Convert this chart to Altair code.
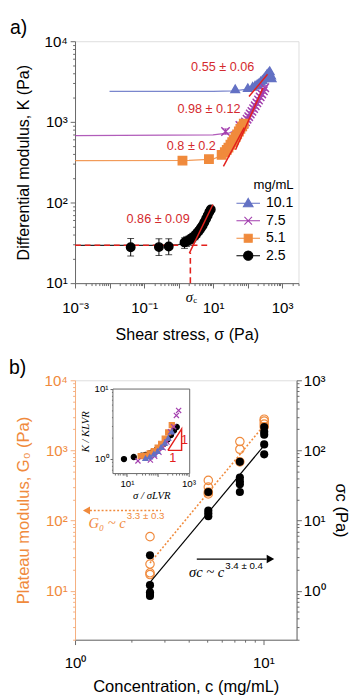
import altair as alt
import pandas as pd

SANS = "Liberation Sans"
SERIF = "Liberation Serif"
RED = "#e3201c"
RED_TXT = "#d42a2e"
ORANGE = "#f08a3c"
FRAME = "#666666"

# ================= panel a data =================
series_a = ["10.1", "7.5", "5.1", "2.5"]
colors_a = ["#6371c4", "#a33fae", "#f08a3c", "#000000"]
X_PATH = "M-1,-1L1,1M-1,1L1,-1"
shapes_a = ["triangle-up", X_PATH, "square", "circle"]
# legend symbols: marker with a short line through it
LINE = "M-2.8,0H2.8"
legend_shapes_a = [
    LINE + "M0,-1.15L1.15,0.85L-1.15,0.85Z",
    LINE + "M-0.9,-0.9L0.9,0.9M-0.9,0.9L0.9,-0.9",
    LINE + "M-0.95,-0.95H0.95V0.95H-0.95Z",
    LINE + "M-1.1,0A1.1,1.1,0,1,1,1.1,0A1.1,1.1,0,1,1,-1.1,0Z",
]

s_101 = [44, 102, 140, 165, 190, 215, 240, 270, 300, 330, 360, 400, 440, 480, 500]
k_101 = [2570, 2650, 2750, 2850, 2950, 3050, 3200, 3350, 3500, 3700, 3900, 4100, 4300, 3800, 3500]
s_75 = [23, 60, 70, 78, 87, 97, 108, 120, 134, 150, 167, 186, 208, 232, 258, 288, 316]
k_75 = [760, 900, 870, 930, 1000, 1080, 1160, 1250, 1350, 1460, 1580, 1720, 1870, 2040, 2220, 2430, 2650]
k_75_lo = [700, 830, 810, 865, 930, 1000, 1080, 1160, 1250, 1350, 1470, 1600, 1740, 1900, 2060, 2260, 2460]
k_75_hi = [820, 970, 930, 995, 1070, 1160, 1240, 1340, 1450, 1570, 1690, 1840, 2000, 2180, 2380, 2600, 2840]
s_51 = [1.3, 7.6, 17.8, 22, 25, 28, 32, 36, 40, 45, 50, 56, 62, 70, 78]
k_51 = [330, 345, 390, 420, 450, 480, 520, 560, 600, 650, 700, 760, 820, 880, 950]
s_25 = [0.041, 0.27, 0.52, 1.49, 1.7, 2.0, 2.3, 2.6, 3.0, 3.4, 3.9, 4.4, 5.0, 5.6, 6.3, 7.0, 7.8, 8.6]
k_25 = [27.9, 28, 28.5, 32, 33, 34, 35.5, 37, 39, 41.5, 44.5, 48, 52, 57, 63, 69, 76, 82]
k_25_lo = [21.7, 22.0, 22.5, 27.0, 28.5, 29.5, 31, 32.5, 34.5, 37, 40, 43, 47, 52, 58, 64, 71, 77]
k_25_hi = [35.8, 35.5, 35.5, 36.5, 37.5, 38.5, 40, 41.5, 43.5, 46, 49, 53, 57, 62, 68, 74, 81, 87]

# fitted curves
fs_101 = [0.01, 10, 40, 100, 200, 300, 400, 500]
fk_101 = [2380, 2380, 2420, 2550, 2850, 3200, 3600, 3950]
fs_75 = [0.001, 10, 30, 50, 70, 100, 150, 220, 320]
fk_75 = [676, 690, 730, 800, 880, 1100, 1450, 1950, 2700]
fs_51 = [0.001, 2, 10, 17, 25, 35, 50, 70, 90]
fk_51 = [330, 332, 345, 380, 440, 540, 680, 850, 960]
fs_25 = [0.001, 0.5, 1.0, 1.5, 2.0, 2.5, 3, 4, 5, 6.5, 8.5]
fk_25 = [29.5, 29.5, 30, 31.5, 33.5, 36, 39, 45, 52, 62, 78]

# power-law (red) lines
pl_s = {"10.1": [110, 380], "7.5": [45, 280], "5.1": [20, 80], "2.5": [2.06, 9.9]}
pl_k = {"10.1": [2060, 3890], "7.5": [450, 2640], "5.1": [280, 850], "2.5": [23.6, 94.6]}
pl_txt = ["0.55 \u00b1 0.06", "0.98 \u00b1 0.12", "0.8 \u00b1 0.2", "0.86 \u00b1 0.09"]
pl_txt_s = [19, 7.6, 2.35, 0.256]
pl_txt_k = [4730, 1435, 500, 62.4]

sigma_c = 2.2
plateau_25 = 29.5
dash_h_s = [0.001, 7]
dash_v_k = [10, 24]

# ================= panel b data =================
g0_c = [2.5, 2.5, 2.5, 2.5, 5.1, 5.1, 5.1, 5.1, 7.5, 7.5, 7.5, 10.1, 10.1, 10.1, 10.1]
g0_v = [59, 24, 18, 17, 374, 300, 255, 240, 1340, 1040, 687, 2790, 2620, 2380, 2170]
sc_c = [2.5, 2.5, 2.5, 2.5, 2.5, 5.1, 5.1, 5.1, 5.1, 7.5, 7.5, 7.5, 7.5, 7.5, 10.1, 10.1, 10.1, 10.1, 10.1]
sc_v = [3.2, 1.2, 0.95, 0.9, 0.84, 25.5, 13.9, 12.7, 11.5, 68.7, 41, 36.4, 33, 25.5, 216, 184, 168, 122, 88]
g0_fit_c = [2.5, 10.1]
g0_fit_v = [24.9, 2300]
sc_fit_c = [2.5, 10.1]
sc_fit_v = [1.31, 118]

# inset data
in_black_x = [8.0, 16.7, 30, 40, 54, 70, 90, 120, 160, 210, 270, 340, 417]
in_black_y = [1.0, 1.07, 1.12, 1.15, 1.2, 1.27, 1.35, 1.48, 1.65, 1.9, 2.2, 2.55, 2.87]
in_purple_x = [22.8, 57.8, 80, 110, 150, 200, 263, 330, 406, 480]
in_purple_y = [0.94, 0.97, 1.1, 1.25, 1.45, 1.75, 2.45, 2.9, 4.2, 4.95]
in_orange_x = [28, 40, 55, 75, 100, 130, 170, 220, 288]
in_orange_y = [1.1, 1.12, 1.2, 1.3, 1.45, 1.65, 1.95, 2.4, 3.06]
in_blue_x = [40, 55, 75, 100, 130, 170, 220, 288]
in_blue_y = [1.03, 1.08, 1.18, 1.3, 1.48, 1.7, 2.0, 2.45]
tri_x = [215, 600, 600, 215]
tri_y = [1.33, 1.33, 2.69, 1.33]
one_x = [745, 310]
one_y = [1.84, 1.03]


# ================= helpers =================
SUP = {"-": "\u207b", "0": "\u2070", "1": "\u00b9", "2": "\u00b2", "3": "\u00b3",
       "4": "\u2074", "5": "\u2075", "6": "\u2076", "7": "\u2077", "8": "\u2078", "9": "\u2079"}


def pow_label(e):
    return "10" + "".join(SUP[ch] for ch in str(e))


def label_expr(exps):
    parts = [f"datum.value == {10.0 ** e!r} ? '{pow_label(e)}'" for e in exps]
    return " : ".join(parts) + " : ''"


def tick_values(lo_e, hi_e, lo_v, hi_v):
    vals = []
    for e in range(lo_e, hi_e + 1):
        for m in range(1, 10):
            v = m * 10.0 ** e
            if lo_v * 0.999 <= v <= hi_v * 1.001:
                vals.append(float(f"{v:.6g}"))
    return vals


def major_test(lo_e, hi_e):
    arr = ",".join(repr(10.0 ** e) for e in range(lo_e, hi_e + 1))
    return f"indexof([{arr}], datum.value) >= 0"


def log_axis(lo_e, hi_e, lo_v, hi_v, lab_exps, title, color="#000000", domain_color=FRAME, **kw):
    return alt.Axis(
        values=tick_values(lo_e, hi_e, lo_v, hi_v),
        labelExpr=label_expr(lab_exps),
        tickSize={"condition": {"test": major_test(lo_e, hi_e), "value": 5}, "value": 2.5},
        tickColor=domain_color, domainColor=domain_color, labelColor=color, titleColor=color,
        title=title, labelOverlap=False, labelFlush=False, grid=False,
        labelFont=SANS, titleFont=SANS, titleFontWeight="normal", **kw)


# ================= panel a =================
pts_a = pd.concat([
    pd.DataFrame({"conc": c, "s": s, "k": k})
    for c, s, k in [("10.1", s_101, k_101), ("7.5", s_75, k_75), ("5.1", s_51, k_51), ("2.5", s_25, k_25)]
])
fit_a = pd.concat([
    pd.DataFrame({"conc": c, "s": s, "k": k})
    for c, s, k in [("10.1", fs_101, fk_101), ("7.5", fs_75, fk_75), ("5.1", fs_51, fk_51), ("2.5", fs_25, fk_25)]
])
pl_a = pd.concat([pd.DataFrame({"conc": c, "s": pl_s[c], "k": pl_k[c]}) for c in series_a])
err_a = pd.concat([
    pd.DataFrame({"conc": "7.5", "s": s_75, "k": k_75_lo, "hi": k_75_hi}),
    pd.DataFrame({"conc": "2.5", "s": s_25, "k": k_25_lo, "hi": k_25_hi}),
])
txt_a = pd.DataFrame({"t": pl_txt, "s": pl_txt_s, "k": pl_txt_k})
dash_a = pd.DataFrame({
    "seg": ["h", "h", "v", "v"],
    "s": dash_h_s + [sigma_c, sigma_c],
    "k": [plateau_25, plateau_25] + dash_v_k,
})
sc_lab = pd.DataFrame({"s": [sigma_c], "k": [10]})
legend_df = pd.DataFrame({"conc": pd.Series([], dtype=str), "s": pd.Series([], dtype=float),
                          "k": pd.Series([], dtype=float)})

xa = alt.Scale(type="log", domain=[1e-3, 3000], nice=False)
ya = alt.Scale(type="log", domain=[10, 1e4], nice=False)
col_scale = alt.Scale(domain=series_a, range=colors_a)
shp_scale = alt.Scale(domain=series_a, range=shapes_a)
leg_shp_scale = alt.Scale(domain=series_a, range=legend_shapes_a)

ax_xa = log_axis(-3, 3, 1e-3, 3000, [-3, -1, 1, 3], "Shear stress, \u03c3 (Pa)",
                 labelFontSize=15.5, titleFontSize=16.5, labelPadding=13, titlePadding=12)
ax_ya = log_axis(1, 4, 10, 1e4, [1, 2, 3, 4], "Differential modulus, K (Pa)",
                 labelFontSize=15.5, titleFontSize=16.5, labelPadding=3, titlePadding=13)

XA = alt.X("s:Q", scale=xa)
YA = alt.Y("k:Q", scale=ya)
legend_a = alt.Legend(
    title="mg/mL", orient="none", legendX=171, legendY=141, titleFont=SANS, titleFontSize=13.5,
    titleFontWeight="normal", titleAnchor="end", labelFont=SANS, labelFontSize=14.5,
    symbolSize=75, symbolStrokeWidth=1.1, rowPadding=3, titlePadding=5, labelOffset=11)

legend_layer = alt.Chart(legend_df).mark_point(filled=True, size=75, opacity=1).encode(
    x=XA, y=YA,
    fill=alt.Fill("conc:N", scale=col_scale, legend=legend_a, sort=series_a),
    stroke=alt.Stroke("conc:N", scale=col_scale, legend=legend_a, sort=series_a),
    shape=alt.Shape("conc:N", scale=leg_shp_scale, legend=legend_a, sort=series_a),
)
fit_layer = alt.Chart(fit_a).mark_line(strokeWidth=1.3, opacity=0.85).encode(
    x=alt.X("s:Q", scale=xa, axis=ax_xa),
    y=alt.Y("k:Q", scale=ya, axis=ax_ya),
    stroke=alt.Stroke("conc:N", scale=col_scale, legend=None),
    detail="conc:N",
)
dash_layer = alt.Chart(dash_a).mark_line(stroke=RED, strokeWidth=1.6, strokeDash=[6, 4]).encode(
    x=XA, y=YA, detail="seg:N")
err_rule = alt.Chart(err_a).mark_rule(strokeWidth=1).encode(
    x=XA, y=YA, y2="hi:Q", stroke=alt.Stroke("conc:N", scale=col_scale, legend=None))
err_lo = alt.Chart(err_a).mark_tick(orient="horizontal", size=7, thickness=1).encode(
    x=XA, y=YA, color=alt.Color("conc:N", scale=col_scale, legend=None))
err_hi = alt.Chart(err_a).mark_tick(orient="horizontal", size=7, thickness=1).encode(
    x=XA, y=alt.Y("hi:Q", scale=ya), color=alt.Color("conc:N", scale=col_scale, legend=None))
pts_layer = alt.Chart(pts_a).mark_point(filled=True, size=75, strokeWidth=1.5, opacity=1).encode(
    x=XA, y=YA,
    fill=alt.Fill("conc:N", scale=col_scale, legend=None),
    stroke=alt.Stroke("conc:N", scale=col_scale, legend=None),
    shape=alt.Shape("conc:N", scale=shp_scale, legend=None),
)
pl_layer = alt.Chart(pl_a).mark_line(stroke=RED, strokeWidth=1.5).encode(x=XA, y=YA, detail="conc:N")
txt_layer = alt.Chart(txt_a).mark_text(font=SANS, fontSize=13, color=RED_TXT).encode(
    x=XA, y=YA, text="t:N")
sc_sig = alt.Chart(sc_lab).mark_text(font=SERIF, fontStyle="italic", fontSize=15, baseline="top",
                                     dy=7, dx=-1, text="\u03c3", color="#000000").encode(x=XA, y=YA)
sc_sub = alt.Chart(sc_lab).mark_text(font=SERIF, fontSize=9, baseline="top", align="left",
                                     dy=13, dx=3, text="c", color="#000000").encode(x=XA, y=YA)

panel_a = alt.layer(
    fit_layer, legend_layer, dash_layer, err_rule, err_lo, err_hi, pts_layer, pl_layer, txt_layer,
    sc_sig, sc_sub
).resolve_scale(
    shape="independent", fill="independent", stroke="independent", color="independent"
).properties(
    width=230, height=249,
    title=alt.TitleParams("a)", anchor="start", font=SANS, fontSize=20, fontWeight="normal",
                          dx=-6, offset=-4),
)

# ================= panel b =================
xb = alt.Scale(type="log", domain=[1, 15], nice=False)
yl = alt.Scale(type="log", domain=[2, 1e4], nice=False)
yr = alt.Scale(type="log", domain=[0.2, 1e3], nice=False)
xi = alt.Scale(type="log", domain=[3.5, 1100], nice=False, range=[39, 118])
yi = alt.Scale(type="log", domain=[0.62, 10], nice=False, range=[96, 9])

g0_df = pd.DataFrame({"c": g0_c, "v": g0_v})
sc_df = pd.DataFrame({"c": sc_c, "v": sc_v})
g0_fit = pd.DataFrame({"c": g0_fit_c, "v": g0_fit_v})
sc_fit = pd.DataFrame({"c": sc_fit_c, "v": sc_fit_v})

ax_xb = log_axis(0, 1, 1, 15, [0, 1], "Concentration, c (mg/mL)",
                 labelFontSize=15.5, titleFontSize=17, labelPadding=12, titlePadding=8)
ax_yl = log_axis(0, 4, 2, 1e4, [1, 2, 3, 4], "Plateau modulus, G\u2080 (Pa)", color=ORANGE,
                 domain_color="#f6ad7c", labelFontSize=15.5, titleFontSize=17, labelPadding=3,
                 titlePadding=12)
ax_yr = log_axis(-1, 3, 0.2, 1e3, [0, 1, 2, 3], "\u03c3c (Pa)", orient="right",
                 labelFontSize=15.5, titleFontSize=17, labelPadding=2, titlePadding=7)

arrow_o = pd.DataFrame({"c": [2.86, 1.2], "v": [139, 139]})
arrow_o_head = pd.DataFrame({"c": [1.15], "v": [139]})
arrow_b = pd.DataFrame({"c": [4.43, 10.4], "v": [2.83, 2.83]})
arrow_b_head = pd.DataFrame({"c": [10.9], "v": [2.83]})
lab_o = pd.DataFrame({"c": [1.86], "v": [92]})
lab_b = pd.DataFrame({"c": [6.2], "v": [1.81]})

XB = alt.X("c:Q", scale=xb)
XBN = alt.X("c:Q", scale=xb, axis=None)
YL = alt.Y("v:Q", scale=yl)
YR = alt.Y("v:Q", scale=yr)

left = alt.layer(
    alt.Chart(g0_fit).mark_line(stroke=ORANGE, strokeWidth=1.6, strokeDash=[2, 2]).encode(
        x=alt.X("c:Q", scale=xb, axis=ax_xb), y=alt.Y("v:Q", scale=yl, axis=ax_yl)),
    alt.Chart(g0_df).mark_point(shape="circle", filled=False, size=75, stroke=ORANGE, strokeWidth=1.2,
                                opacity=1).encode(x=XB, y=YL),
    alt.Chart(arrow_o).mark_line(stroke=ORANGE, strokeWidth=1.6, strokeDash=[2, 2]).encode(x=XB, y=YL),
    alt.Chart(arrow_o_head).mark_point(shape="triangle-left", filled=True, size=70, color=ORANGE,
                                       opacity=1).encode(x=XB, y=YL),
    alt.Chart(lab_o).mark_text(font=SERIF, fontStyle="italic", fontSize=15, align="right",
                               color=ORANGE, text="G\u2080 ~ c").encode(x=XB, y=YL),
    alt.Chart(lab_o).mark_text(font=SANS, fontSize=10, align="left", dx=1, dy=-7,
                               color=ORANGE, text="3.3 \u00b1 0.3").encode(x=XB, y=YL),
)

right = alt.layer(
    alt.Chart(sc_fit).mark_line(stroke="#000000", strokeWidth=1.2).encode(
        x=XBN, y=alt.Y("v:Q", scale=yr, axis=ax_yr)),
    alt.Chart(sc_df).mark_point(shape="circle", filled=True, size=70, color="#000000", opacity=1).encode(
        x=XBN, y=YR),
    alt.Chart(arrow_b).mark_line(stroke="#000000", strokeWidth=1.3).encode(x=XBN, y=YR),
    alt.Chart(arrow_b_head).mark_point(shape="triangle-right", filled=True, size=80, color="#000000",
                                       opacity=1).encode(x=XBN, y=YR),
    alt.Chart(lab_b).mark_text(font=SERIF, fontStyle="italic", fontSize=15, align="right",
                               color="#000000", text="\u03c3c ~ c").encode(x=XBN, y=YR),
    alt.Chart(lab_b).mark_text(font=SANS, fontSize=10, align="left", dx=1, dy=-7,
                               color="#000000", text="3.4 \u00b1 0.4").encode(x=XBN, y=YR),
)

in_pts = pd.concat([
    pd.DataFrame({"conc": "2.5", "x": in_black_x, "y": in_black_y}),
    pd.DataFrame({"conc": "5.1", "x": in_orange_x, "y": in_orange_y}),
    pd.DataFrame({"conc": "7.5", "x": in_purple_x, "y": in_purple_y}),
    pd.DataFrame({"conc": "10.1", "x": in_blue_x, "y": in_blue_y}),
])
frame_df = pd.DataFrame({"x": [3.5], "x2": [1100], "y": [0.62], "y2": [10]})
tri_df = pd.DataFrame({"i": [0, 1, 2, 3], "x": tri_x, "y": tri_y})
one_df = pd.DataFrame({"x": one_x, "y": one_y, "t": ["1", "1"]})

ax_xi = alt.Axis(values=tick_values(0, 3, 3.5, 1100), labelExpr=label_expr([1, 3]),
                 tickSize={"condition": {"test": major_test(0, 3), "value": 3}, "value": 1.5},
                 orient="bottom", offset=-171, domain=False, tickColor=FRAME, labelFont=SANS,
                 labelFontSize=10, labelPadding=2, labelOverlap=False, labelFlush=False,
                 title="\u03c3 / \u03c3LVR", titleFont=SERIF, titleFontStyle="italic",
                 titleFontWeight="normal", titleFontSize=11, titlePadding=2, grid=False)
ax_yi = alt.Axis(values=tick_values(-1, 1, 0.62, 10), labelExpr=label_expr([0, 1]),
                 tickSize={"condition": {"test": major_test(-1, 1), "value": 3}, "value": 1.5},
                 orient="left", offset=-39, domain=False, tickColor=FRAME, labelFont=SANS,
                 labelFontSize=10, labelPadding=2, labelOverlap=False, labelFlush=False,
                 title="K / KLVR", titleFont=SERIF, titleFontStyle="italic",
                 titleFontWeight="normal", titleFontSize=11, titlePadding=3, grid=False)

XI = alt.X("x:Q", scale=xi)
YI = alt.Y("y:Q", scale=yi)
inset = alt.layer(
    alt.Chart(frame_df).mark_rect(fill="white", stroke=FRAME, strokeWidth=1).encode(
        x=alt.X("x:Q", scale=xi, axis=ax_xi), x2="x2:Q",
        y=alt.Y("y:Q", scale=yi, axis=ax_yi), y2="y2:Q"),
    alt.Chart(in_pts).mark_point(filled=True, size=28, strokeWidth=1.2, opacity=1).encode(
        x=XI, y=YI,
        fill=alt.Fill("conc:N", scale=col_scale, legend=None),
        stroke=alt.Stroke("conc:N", scale=col_scale, legend=None),
        shape=alt.Shape("conc:N", scale=shp_scale, legend=None)),
    alt.Chart(tri_df).mark_line(stroke=RED, strokeWidth=1.5).encode(x=XI, y=YI, order="i:Q"),
    alt.Chart(one_df).mark_text(font=SANS, fontSize=13, color=RED).encode(x=XI, y=YI, text="t:N"),
)

panel_b = alt.layer(left, right, inset).resolve_scale(
    x="independent", y="independent"
).properties(
    width=228, height=267,
    title=alt.TitleParams("b)", anchor="start", font=SANS, fontSize=20, fontWeight="normal",
                          dx=-6, offset=-4),
)

chart = alt.vconcat(panel_a, panel_b, spacing=13).properties(
    padding={"left": 0, "top": 0, "right": 0, "bottom": 0}
).configure_view(stroke=FRAME, strokeWidth=1).configure(font=SANS)

chart.save("out.html", embed_options={"renderer": "svg", "actions": False})
